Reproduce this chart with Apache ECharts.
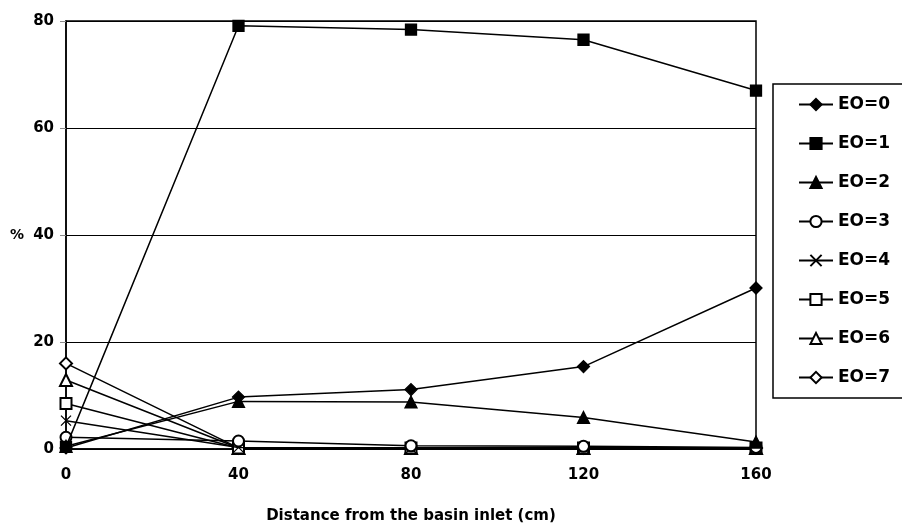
<!DOCTYPE html>
<html>
<head>
<meta charset="utf-8">
<script src="https://cdn.jsdelivr.net/npm/echarts@6/dist/echarts.min.js"></script>
<style>html,body{margin:0;padding:0;background:#fff;}#c{width:902px;height:529px;}</style>
</head>
<body>
<div id="c"></div>
<script>
const distances = [0, 40, 80, 120, 160];
const xTicks = [0, 40, 80, 120, 160];
const yTicks = [0, 20, 40, 60, 80];
const seriesNames = ['EO=0','EO=1','EO=2','EO=3','EO=4','EO=5','EO=6','EO=7'];
const eo0 = [0.2, 9.7, 11.1, 15.4, 30.1];
const eo1 = [0.4, 79.1, 78.4, 76.5, 67.0];
const eo2 = [0.5, 8.9, 8.8, 5.9, 1.3];
const eo3 = [2.2, 1.5, 0.6, 0.5, 0.3];
const eo4 = [5.3, 0.3, 0.2, 0.2, 0.2];
const eo5 = [8.5, 0.2, 0.2, 0.2, 0.2];
const eo6 = [12.9, 0.2, 0.2, 0.2, 0.2];
const eo7 = [16.0, 0.2, 0.2, 0.2, 0.2];
const values = [eo0, eo1, eo2, eo3, eo4, eo5, eo6, eo7];
const symbols = ['diamond','rect','triangle','emptyCircle','path://M0,0L10,10M10,0L0,10','emptyRect','emptyTriangle','emptyDiamond'];
const sizes = [12, 11, 12, 11, 10, 11, 12, 12];
const FONT = 'DejaVu Sans, Liberation Sans, Arial, sans-serif';

const chart = echarts.init(document.getElementById('c'));
const series = seriesNames.map((n, i) => ({
  name: n,
  type: 'line',
  data: distances.map((d, j) => [d, values[i][j]]),
  symbol: symbols[i],
  symbolSize: sizes[i],
  showAllSymbol: true,
  lineStyle: {color: '#000', width: 1.5},
  itemStyle: {color: '#000', borderColor: '#000', borderWidth: 1.3},
  z: 10 - i,
  animation: false
}));
chart.setOption({
  animation: false,
  textStyle: {fontFamily: FONT},
  grid: {left: 66, right: 146, top: 21, bottom: 76, show: true, borderColor: '#000', borderWidth: 1.5, backgroundColor: 'transparent'},
  legend: {
    orient: 'vertical', left: 773, top: 84,
    data: seriesNames,
    itemWidth: 34, itemHeight: 14, itemGap: 22,
    padding: [12, 40, 12, 25],
    borderColor: '#000', borderWidth: 1.5,
    textStyle: {fontSize: 17, fontWeight: 'bold', color: '#000', fontFamily: FONT}
  },
  xAxis: {
    type: 'value', min: 0, max: 160, interval: 40,
    name: 'Distance from the basin inlet (cm)', nameLocation: 'middle', nameGap: 60,
    nameTextStyle: {fontSize: 15, fontWeight: 'bold', color: '#000', fontFamily: FONT},
    axisLine: {show: true, lineStyle: {color: '#000', width: 1.5}},
    axisTick: {show: false},
    splitLine: {show: false},
    axisLabel: {fontSize: 15, fontWeight: 'bold', color: '#000', margin: 19, fontFamily: FONT,
      customValues: xTicks}
  },
  yAxis: {
    type: 'value', min: 0, max: 80, interval: 20,
    name: '%', nameLocation: 'middle', nameRotate: 0, nameGap: 42,
    nameTextStyle: {fontSize: 14, fontWeight: 'bold', color: '#000', fontFamily: FONT},
    axisLine: {show: true, lineStyle: {color: '#000', width: 1.5}},
    axisTick: {show: true, length: 6, lineStyle: {color: '#888'}},
    splitLine: {show: true, lineStyle: {color: '#000', width: 1.2}},
    axisLabel: {fontSize: 15, fontWeight: 'bold', color: '#000', margin: 12, fontFamily: FONT}
  },
  series: series
});
</script>
</body>
</html>
